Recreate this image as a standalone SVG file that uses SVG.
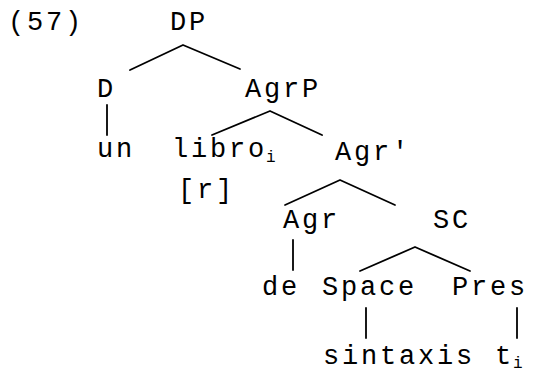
<svg xmlns="http://www.w3.org/2000/svg" width="540" height="372" viewBox="0 0 540 372">
<style>
text{font-family:"Liberation Mono","Courier New",monospace;font-size:27px;letter-spacing:2.8px;fill:#000}
.sub{font-size:16px;letter-spacing:0}
.e{stroke:#000;stroke-width:1.8;fill:none;stroke-linecap:round;stroke-linejoin:round}
</style>
<rect width="540" height="372" fill="#fff"/>
<text id="ex" x="8" y="30">(57)</text>
<g id="connectors">
<polyline class="e" points="130,70 183,45 240,69"/>
<line class="e" x1="107" y1="105" x2="107" y2="135"/>
<polyline class="e" points="212,135 270,111 322,135"/>
<polyline class="e" points="285,205 340,180 395,205"/>
<line class="e" x1="293" y1="240" x2="293" y2="270"/>
<polyline class="e" points="360,271 415,247 470,271"/>
<line class="e" x1="366" y1="308" x2="366" y2="338"/>
<line class="e" x1="517" y1="308" x2="517" y2="338"/>
</g>
<g id="DP"><text x="170" y="30">DP</text></g>
<g id="D"><text x="97" y="97">D</text></g>
<g id="AgrP"><text x="245" y="97">AgrP</text></g>
<g id="un"><text x="97" y="157">un</text></g>
<g id="libro"><text x="172" y="157">libr<tspan letter-spacing="0">o</tspan></text><text class="sub" x="266" y="162">i</text><text x="178" y="198">[r]</text></g>
<g id="AgrBar"><text x="335" y="160">Agr'</text></g>
<g id="Agr"><text x="283" y="228">Agr</text></g>
<g id="SC"><text x="433" y="228">SC</text></g>
<g id="de"><text x="262" y="295">de</text></g>
<g id="Space"><text x="322" y="295">Space</text></g>
<g id="Pres"><text x="452" y="295">Pres</text></g>
<g id="sintaxis"><text x="323" y="364">sintaxis</text></g>
<g id="t"><text x="495" y="364" letter-spacing="0">t</text><text class="sub" x="513" y="368">i</text></g>
</svg>
